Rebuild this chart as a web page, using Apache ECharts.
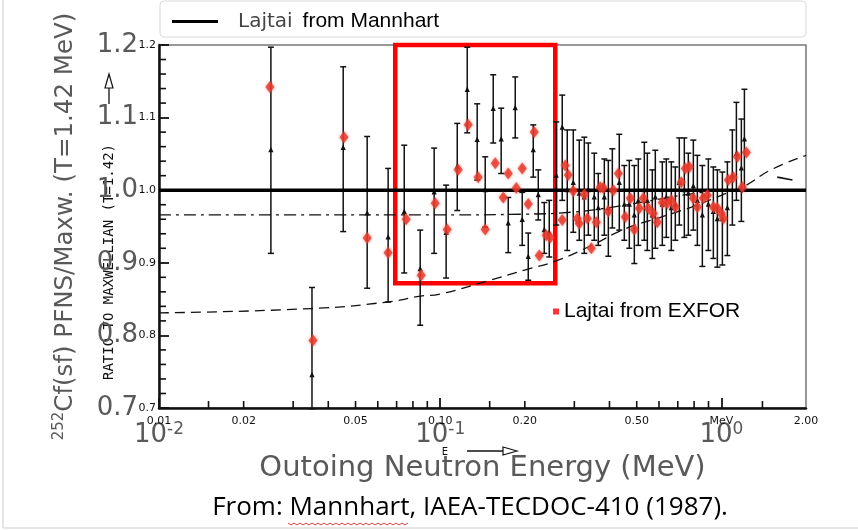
<!DOCTYPE html>
<html><head><meta charset="utf-8">
<script src="https://cdn.jsdelivr.net/npm/echarts@6/dist/echarts.min.js"></script>
<style>html,body{margin:0;padding:0;background:#fff}#c{width:858px;height:530px}</style>
</head><body><div id="c"></div>
<script>
// Lajtai from EXFOR (red points)
const redE = [0.0248,0.0353,0.0455,0.0550,0.0653,0.0757,0.0856,0.0960,0.1059,0.1159,0.1258,0.1365,0.1446,0.1570,0.1676,0.1746,0.1865,0.1958,0.2057,0.2160,0.2251,0.2384,0.2463,0.2717,0.2785,0.2854,0.2974,0.3073,0.3124,0.3255,0.3336,0.3448,0.3592,0.3711,0.3804,0.3963,0.4129,0.4302,0.4554,0.4746,0.4903,0.5108,0.5278,0.5498,0.5728,0.5919,0.6166,0.6426,0.6638,0.6859,0.7206,0.7447,0.7692,0.7950,0.8215,0.8627,0.8916,0.9365,0.9678,1.0000,1.0165,1.0590,1.1031,1.1400,1.1878,1.2276];
const redV = [1.142,0.793,1.073,0.934,0.914,0.960,0.883,0.982,0.946,1.028,1.090,1.018,0.946,1.037,0.990,1.023,1.003,1.030,0.981,1.080,0.910,0.938,0.935,0.959,1.034,1.021,0.999,0.961,0.954,0.994,0.961,0.920,0.956,1.004,1.003,0.971,1.000,1.023,0.963,0.989,0.946,0.975,0.989,0.975,0.968,0.956,0.983,0.982,0.986,0.977,1.011,1.030,1.032,0.989,0.977,0.989,0.993,0.977,0.975,0.968,0.961,1.014,1.018,1.046,1.004,1.052];
// Scanned Mannhart figure: points with error bars
const blackE = [0.0250,0.0350,0.0452,0.0550,0.0653,0.0745,0.0849,0.0952,0.1050,0.1150,0.1248,0.1354,0.1446,0.1544,0.1648,0.1746,0.1849,0.1958,0.2057,0.2143,0.2233,0.2345,0.2443,0.2587,0.2717,0.2831,0.2974,0.3124,0.3255,0.3364,0.3532,0.3650,0.3835,0.3963,0.4095,0.4335,0.4517,0.4706,0.4903,0.5066,0.5321,0.5454,0.5681,0.5823,0.6166,0.6372,0.6638,0.6859,0.7087,0.7384,0.7631,0.7950,0.8215,0.8558,0.8990,0.9365,0.9678,1.0083,1.0505,1.0942,1.1310,1.1780,1.2077];
const blackV = [1.055,0.745,1.058,0.968,0.935,0.970,0.891,0.997,0.941,1.032,1.138,1.069,1.000,1.112,1.070,0.954,1.113,0.959,0.908,1.055,0.993,0.945,0.941,1.020,1.086,1.000,1.010,0.995,0.990,1.000,0.990,0.975,0.990,0.975,1.000,1.010,0.980,0.980,0.965,0.985,1.000,0.985,0.965,0.990,0.980,0.990,0.975,0.980,1.010,1.000,0.995,1.005,0.985,0.965,0.980,0.970,0.960,0.960,0.975,1.020,1.050,1.030,1.070];
const blackLo = [0.913,0.699,0.943,0.865,0.846,0.886,0.814,0.913,0.879,0.972,1.079,1.014,0.949,1.065,1.023,0.914,1.072,0.924,0.876,1.018,0.959,0.913,0.908,0.952,0.986,0.917,0.942,0.931,0.913,0.938,0.931,0.924,0.938,0.909,0.948,0.945,0.931,0.920,0.899,0.924,0.931,0.917,0.906,0.920,0.924,0.935,0.917,0.931,0.952,0.935,0.938,0.945,0.924,0.895,0.917,0.906,0.894,0.897,0.910,0.952,0.986,0.957,1.000];
const blackHi = [1.197,0.866,1.170,1.074,1.030,1.062,0.945,1.058,1.007,1.092,1.197,1.119,1.046,1.159,1.113,0.990,1.156,0.997,0.941,1.090,1.028,0.983,0.986,1.094,1.131,1.083,1.083,1.069,1.073,1.065,1.051,1.023,1.043,1.041,1.057,1.077,1.034,1.041,1.034,1.043,1.066,1.051,1.028,1.055,1.039,1.043,1.039,1.032,1.072,1.072,1.051,1.069,1.048,1.034,1.043,1.032,1.028,1.025,1.039,1.083,1.121,1.098,1.139];
// Lajtai from Mannhart (reference ratio line)
const refE = [0.01, 2.0];
const refV = [1.0, 1.0];
// dashed curves of the scanned figure
const curveAE = [0.01,0.03,0.1,0.2,0.3,0.4,0.55,0.75,1.0];
const curveAV = [0.966,0.966,0.966,0.967,0.970,0.976,0.985,0.994,1.0];
const curveA2E = [1.58,1.79];
const curveA2V = [1.018,1.014];
const curveBE = [0.01,0.035,0.065,0.085,0.1,0.15,0.2,0.26,0.35,0.45,0.6,0.8,1.0,1.2,1.5,2.0];
const curveBV = [0.831,0.837,0.846,0.854,0.857,0.876,0.890,0.903,0.925,0.946,0.962,0.978,0.993,1.005,1.028,1.048];
// scanned axis ticks / labels
const xMinorTicks = [0.015,0.02,0.03,0.04,0.05,0.06,0.07,0.08,0.09,0.15,0.2,0.3,0.4,0.5,0.6,0.7,0.8,0.9,1.4];
const yMinorTicks = [0.72,0.74,0.76,0.78,0.82,0.84,0.86,0.88,0.92,0.94,0.96,0.98,1.02,1.04,1.06,1.08,1.12,1.14,1.16,1.18];
const xScanLabelE = [0.01,0.02,0.05,0.1,0.2,0.5,1,2];
const xScanLabels = ['0.01','0.02','0.05','0.10','0.20','0.50','MeV','2.00'];
// selected box (annotation)
const boxE = [0.0692, 0.2566];
const boxV = [1.207, 0.872];

const chart = echarts.init(document.getElementById('c'), null, {renderer:'canvas'});
const gray = '#595959';

function renderBar(params, api){
  const x = api.value(0);
  const c = api.coord([x, api.value(1)]);
  const lo = api.coord([x, api.value(2)]);
  const hi = api.coord([x, api.value(3)]);
  const w = 3, st = {stroke:'#111', lineWidth:1.5};
  return {type:'group', children:[
    {type:'line', shape:{x1:c[0],y1:hi[1],x2:c[0],y2:lo[1]}, style:st},
    {type:'line', shape:{x1:c[0]-w,y1:hi[1],x2:c[0]+w,y2:hi[1]}, style:st},
    {type:'line', shape:{x1:c[0]-w,y1:lo[1],x2:c[0]+w,y2:lo[1]}, style:st},
    {type:'polygon', shape:{points:[[c[0],c[1]-3.5],[c[0]-2.6,c[1]+2],[c[0]+2.6,c[1]+2]]}, style:{fill:'#111'}}
  ]};
}
function renderXTick(params, api){
  const p = api.coord([api.value(0), 0.7]);
  return {type:'line', shape:{x1:p[0],y1:p[1],x2:p[0],y2:p[1]-7}, style:{stroke:'#111',lineWidth:1.6}};
}
function renderYTick(params, api){
  const p = api.coord([0.01, api.value(1)]);
  return {type:'line', shape:{x1:p[0],y1:p[1],x2:p[0]+7,y2:p[1]}, style:{stroke:'#111',lineWidth:1.6}};
}
function renderScanLabel(params, api){
  const p = api.coord([api.value(0), 0.7]);
  return {type:'text', x:p[0], y:p[1]+8, style:{text:xScanLabels[params.dataIndex], fill:'#111', font:'11px "DejaVu Sans"', align:'center', verticalAlign:'top'}};
}

const option = {
  animation:false,
  grid:{left:159, right:52, top:45, bottom:122, outerBoundsMode:'none', containLabel:false, show:true, borderColor:'#777', borderWidth:1.5, backgroundColor:'transparent'},
  legend:[
    {left:167, top:6, itemWidth:46, itemHeight:3, icon:'rect', data:['Lajtai from Mannhart'],
     formatter:()=>'{a|Lajtai}{b|from Mannhart}',
     textStyle:{rich:{a:{fontFamily:'DejaVu Sans', fontSize:20, color:'#444', padding:[0,10,0,15]}, b:{fontFamily:'Liberation Sans', fontSize:21, color:'#000'}}}},
    {left:548, top:296, itemWidth:6, itemHeight:6, icon:'rect', data:[{name:'Lajtai from EXFOR', itemStyle:{color:'#ff0000'}}],
     textStyle:{fontFamily:'Liberation Sans', fontSize:21, color:'#000'}}
  ],
  xAxis:{type:'log', logBase:10, min:0.01, max:2,
    name:'Outoing Neutron Energy (MeV)', nameLocation:'middle', nameGap:46,
    nameTextStyle:{fontFamily:'DejaVu Sans', fontSize:29, color:gray},
    axisLine:{show:true, lineStyle:{color:'#111', width:2.5}},
    axisTick:{show:true, inside:true, length:10, lineStyle:{color:'#111', width:1.8}},
    splitLine:{show:false}, minorTick:{show:false},
    axisLabel:{showMaxLabel:false, margin:13,
      formatter:v=>'{b|10}{s|'+Math.round(Math.log10(v))+'}',
      rich:{b:{fontFamily:'DejaVu Sans', fontSize:26, color:gray}, s:{fontFamily:'DejaVu Sans', fontSize:17, color:gray, padding:[0,0,12,0]}}}
  },
  yAxis:[
    {type:'value', min:0.7, max:1.2, interval:0.1, position:'left',
     name:'{s|252}{n|Cf(sf) PFNS/Maxw. (T=1.42 MeV)}', nameLocation:'middle', nameGap:80, nameRotate:90,
     nameTextStyle:{rich:{s:{fontFamily:'DejaVu Sans', fontSize:15, color:gray, padding:[0,0,12,0]}, n:{fontFamily:'DejaVu Sans', fontSize:24.5, color:gray}}},
     axisLine:{show:true, lineStyle:{color:'#111', width:2.5}},
     axisTick:{show:true, inside:true, length:10, lineStyle:{color:'#111', width:1.8}},
     minorTick:{show:false},
     splitLine:{show:false},
     axisLabel:{margin:21, formatter:v=>v.toFixed(1), fontFamily:'DejaVu Sans', fontSize:26, color:gray}},
    {type:'value', min:0.7, max:1.2, interval:0.1, position:'left', offset:0,
     axisLine:{show:false}, axisTick:{show:false}, splitLine:{show:false},
     axisLabel:{margin:3, formatter:v=>v.toFixed(1), fontFamily:'DejaVu Sans', fontSize:11, color:'#111'}}
  ],
  series:[
    {name:'Mannhart data', type:'custom', renderItem:renderBar, z:2, silent:true,
     encode:{x:0, y:[1,2,3]},
     data:blackE.map((e,i)=>[e, blackV[i], blackLo[i], blackHi[i]])},
    {name:'xticks', type:'custom', renderItem:renderXTick, z:2, silent:true, clip:false, encode:{x:0, y:1}, data:xMinorTicks.map(v=>[v, 0.7])},
    {name:'yticks', type:'custom', renderItem:renderYTick, z:2, silent:true, clip:false, encode:{x:0, y:1}, data:yMinorTicks.map(v=>[0.01, v])},
    {name:'scanLabels', type:'custom', renderItem:renderScanLabel, z:2, silent:true, clip:false, encode:{x:0, y:1}, data:xScanLabelE.map(v=>[v, 0.7])},
    {name:'curveA', type:'line', smooth:true, symbol:'none', z:3, silent:true,
     lineStyle:{color:'#111', width:1.3, type:[12,5,3,5]}, data:curveAE.map((e,i)=>[e, curveAV[i]])},
    {name:'curveA2', type:'line', symbol:'none', z:3, silent:true,
     lineStyle:{color:'#111', width:1.6}, data:curveA2E.map((e,i)=>[e, curveA2V[i]])},
    {name:'curveB', type:'line', smooth:true, symbol:'none', z:3, silent:true,
     lineStyle:{color:'#111', width:1.3, type:[10,6]}, data:curveBE.map((e,i)=>[e, curveBV[i]])},
    {name:'Lajtai from Mannhart', type:'line', symbol:'none', z:4, color:'#000',
     lineStyle:{color:'#000', width:3.5}, itemStyle:{color:'#000'}, data:refE.map((e,i)=>[e, refV[i]])},
    {name:'Lajtai from EXFOR', type:'scatter', z:5, clip:false, symbol:'diamond', symbolSize:[9,12],
     itemStyle:{color:'#e8382b', shadowBlur:3, shadowColor:'rgba(232,56,43,0.7)'},
     data:redE.map((e,i)=>[e, redV[i]]),
     markArea:{silent:true, label:{show:false},
       itemStyle:{color:'rgba(0,0,0,0)', borderColor:'#ff0000', borderWidth:4.5},
       data:[[{coord:[boxE[0], boxV[0]]},{coord:[boxE[1], boxV[1]]}]]}}
  ],
  graphic:[
    {type:'rect', z:-1, shape:{x:160, y:1, width:646, height:36, r:4}, style:{fill:'#fff', stroke:'#d9d9d9', lineWidth:1}},
    {type:'line', shape:{x1:3,y1:0,x2:3,y2:528}, style:{stroke:'#dcdcdc', lineWidth:1.5}},
    {type:'line', shape:{x1:3,y1:528,x2:858,y2:528}, style:{stroke:'#dcdcdc', lineWidth:1.5}},
    {type:'text', x:470, y:508, style:{text:'From: Mannhart, IAEA-TECDOC-410 (1987).', font:'26px "Open Sans"', fill:'#000', align:'center', verticalAlign:'middle'}},
    {type:'polyline', shape:{points:[[288,523],[291,525],[294,523],[297,525],[300,523],[303,525],[306,523],[309,525],[312,523],[315,525],[318,523],[321,525],[324,523],[327,525],[330,523],[333,525],[336,523],[339,525],[342,523],[345,525],[348,523],[351,525],[354,523],[357,525],[360,523],[363,525],[366,523],[369,525],[372,523],[375,525],[378,523],[381,525],[384,523],[387,525],[390,523],[393,525],[396,523],[399,525],[402,523],[405,525],[408,523]]}, style:{stroke:'#e04040', lineWidth:1, fill:null}},
    {type:'text', x:109, y:262, rotation:Math.PI/2, style:{text:'RATIO TO MAXWELLIAN (T=1.42)', font:'14px "DejaVu Sans Mono"', fill:'#111', align:'center', verticalAlign:'middle'}},
    {type:'polyline', shape:{points:[[109,104],[109,76]]}, style:{stroke:'#111', lineWidth:1.3, fill:null}},
    {type:'polygon', shape:{points:[[109,74],[105,88],[113,88]]}, style:{stroke:'#111', lineWidth:1.2, fill:'#fff'}},
    {type:'text', x:445, y:452, style:{text:'E', font:'10px "DejaVu Sans"', fill:'#111', align:'center', verticalAlign:'middle'}},
    {type:'line', shape:{x1:467,y1:451,x2:505,y2:451}, style:{stroke:'#111', lineWidth:1.3}},
    {type:'polygon', shape:{points:[[517,451],[503,447],[503,455]]}, style:{stroke:'#111', lineWidth:1.2, fill:'#fff'}}
  ]
};
chart.setOption(option);
</script>
</body></html>
